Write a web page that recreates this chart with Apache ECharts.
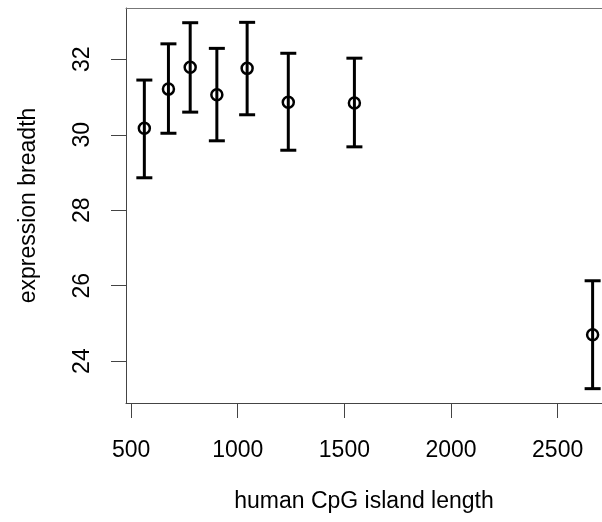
<!DOCTYPE html>
<html><head><meta charset="utf-8">
<script src="https://cdn.jsdelivr.net/npm/echarts@6/dist/echarts.min.js"></script>
<style>html,body{margin:0;padding:0;background:#fff}#c{width:602px;height:522px}</style>
</head><body><div id="c"></div>
<script>
const islandLength = [562, 675, 777, 902, 1044, 1237, 1547, 2664];
const breadthMean  = [30.17, 31.21, 31.79, 31.06, 31.76, 30.86, 30.84, 24.70];
const breadthUpper = [31.45, 32.41, 32.97, 32.29, 32.98, 32.16, 32.03, 26.13];
const breadthLower = [28.86, 30.04, 30.60, 29.84, 30.53, 29.59, 29.68, 23.27];
const xTicks = [500, 1000, 1500, 2000, 2500];
const yTicks = [24, 26, 28, 30, 32];

const FONT = '"Liberation Sans", Arial, Helvetica, sans-serif';
const data = islandLength.map((x, i) => [x, breadthMean[i], breadthLower[i], breadthUpper[i]]);
const X_MIN = 476, X_MAX = 2708;

const chart = echarts.init(document.getElementById('c'), null, {renderer: 'canvas'});
chart.setOption({
  animation: false,
  backgroundColor: '#fff',
  grid: {left: 126, top: 8, right: 0, bottom: 119, show: false},
  xAxis: [{
    type: 'value', min: X_MIN, max: X_MAX,
    name: 'human CpG island length', nameLocation: 'middle', nameGap: 87,
    nameTextStyle: {fontFamily: FONT, fontSize: 23, color: '#000'},
    axisLine: {show: true, lineStyle: {color: '#444', width: 1}},
    axisTick: {show: true, length: 15, customValues: xTicks, lineStyle: {color: '#444', width: 1}},
    axisLabel: {customValues: xTicks, margin: 36, fontFamily: FONT, fontSize: 23, color: '#000',
      formatter: v => String(v)},
    splitLine: {show: false}
  }, {
    type: 'value', position: 'top', min: X_MIN, max: X_MAX,
    axisLine: {show: true, lineStyle: {color: '#777', width: 1}},
    axisTick: {show: false}, axisLabel: {show: false}, splitLine: {show: false}
  }],
  yAxis: {
    type: 'value', min: 22.89, max: 33.36,
    name: 'expression breadth', nameLocation: 'middle', nameGap: 86, nameRotate: 90,
    nameTextStyle: {fontFamily: FONT, fontSize: 23, color: '#000'},
    axisLine: {show: true, lineStyle: {color: '#444', width: 1}},
    axisTick: {show: true, length: 15, customValues: yTicks, lineStyle: {color: '#444', width: 1}},
    axisLabel: {customValues: yTicks, rotate: 90, margin: 32, fontFamily: FONT, fontSize: 23, color: '#000'},
    splitLine: {show: false}
  },
  series: [{
    type: 'custom',
    data: data,
    encode: {x: 0, y: [1, 2, 3]},
    renderItem: function (params, api) {
      const x = api.value(0);
      const pm = api.coord([x, api.value(1)]);
      const pl = api.coord([x, api.value(2)]);
      const pu = api.coord([x, api.value(3)]);
      const hw = 8;
      const st = {stroke: '#000', lineWidth: 3, fill: null};
      return {
        type: 'group',
        children: [
          {type: 'line', shape: {x1: pm[0], y1: pl[1], x2: pm[0], y2: pu[1]}, style: st},
          {type: 'line', shape: {x1: pm[0] - hw, y1: pu[1], x2: pm[0] + hw, y2: pu[1]}, style: st},
          {type: 'line', shape: {x1: pm[0] - hw, y1: pl[1], x2: pm[0] + hw, y2: pl[1]}, style: st},
          {type: 'circle', shape: {cx: pm[0], cy: pm[1], r: 5.5}, style: {stroke: '#000', lineWidth: 2.5, fill: null}}
        ]
      };
    }
  }]
});
</script>
</body></html>
